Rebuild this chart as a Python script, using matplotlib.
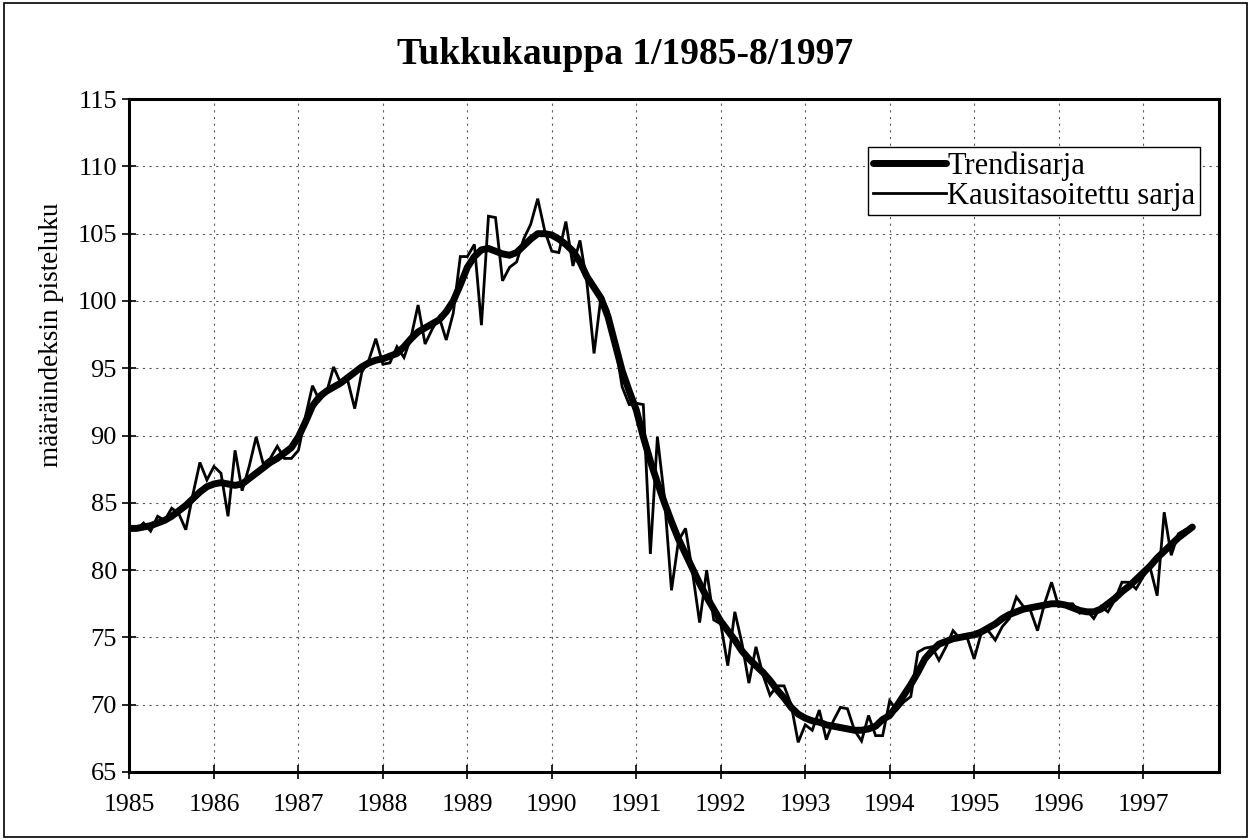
import numpy as np
import matplotlib
matplotlib.use('Agg')
import matplotlib.pyplot as plt
from matplotlib.patches import Rectangle

# kuukausisarjat 1/1985 - 8/1997 (luettu kuvasta)
years = [1985, 1986, 1987, 1988, 1989, 1990, 1991, 1992, 1993, 1994, 1995, 1996, 1997]

kausi = [83.2, 83.0, 83.5, 82.9, 84.0, 83.7, 84.6, 84.2, 83.0, 85.6, 88.0, 86.7,
         87.7, 87.2, 84.0, 88.9, 85.9, 87.7, 89.9, 87.9, 88.3, 89.2, 88.3, 88.3,
         88.9, 91.4, 93.7, 92.6, 93.2, 95.1, 93.9, 94.1, 92.0, 94.7, 95.6, 97.2,
         95.3, 95.4, 96.6, 95.8, 97.3, 99.7, 96.8, 97.9, 98.8, 97.1, 99.1, 103.3,
         103.3, 104.2, 98.2, 106.3, 106.2, 101.5, 102.5, 102.9, 104.6, 105.7, 107.6, 105.2,
         103.7, 103.6, 105.9, 102.6, 104.5, 101.3, 96.1, 100.4, 99.3, 96.8, 93.6, 92.3,
         92.4, 92.3, 81.2, 89.9, 85.4, 78.5, 82.2, 83.1, 79.8, 76.1, 80.0, 76.3,
         76.0, 72.9, 76.9, 74.6, 71.6, 74.3, 72.2, 70.7, 71.4, 71.4, 70.0, 67.2,
         68.5, 68.1, 69.6, 67.4, 68.8, 69.8, 69.7, 68.1, 67.3, 69.2, 67.7, 67.7,
         70.3, 69.6, 70.2, 70.6, 73.9, 74.2, 74.3, 73.3, 74.3, 75.5, 74.9, 75.0,
         73.4, 75.3, 75.5, 74.8, 75.8, 76.4, 78.0, 77.3, 77.0, 75.5, 77.5, 79.1,
         77.3, 77.5, 77.5, 76.8, 77.0, 76.4, 77.3, 76.9, 77.8, 79.1, 79.1, 78.6,
         79.5, 80.2, 78.1, 84.3, 81.1, 82.7, 83.0, 83.2]

trendi = [83.1, 83.1, 83.2, 83.3, 83.5, 83.7, 84.0, 84.4, 84.8, 85.3, 85.8, 86.2,
          86.4, 86.5, 86.4, 86.3, 86.4, 86.8, 87.2, 87.6, 88.0, 88.3, 88.7, 89.1,
          89.9, 91.0, 92.2, 92.9, 93.3, 93.6, 93.9, 94.3, 94.7, 95.1, 95.4, 95.6,
          95.7, 95.9, 96.1, 96.6, 97.2, 97.7, 98.0, 98.3, 98.6, 99.2, 100.0, 101.2,
          102.5, 103.3, 103.8, 103.9, 103.7, 103.5, 103.4, 103.6, 104.1, 104.6, 105.0, 105.0,
          104.9, 104.6, 104.2, 103.7, 102.9, 101.8, 101.0, 100.2, 98.8, 96.8, 94.8, 93.3,
          91.9, 89.9, 88.1, 86.5, 85.0, 83.6, 82.3, 81.2, 80.1, 79.0, 78.0, 77.1,
          76.2, 75.5, 74.8, 74.0, 73.4, 72.9, 72.4, 71.8, 71.1, 70.5, 69.8, 69.3,
          69.0, 68.8, 68.7, 68.5, 68.4, 68.3, 68.2, 68.1, 68.1, 68.2, 68.4, 68.9,
          69.2, 69.9, 70.7, 71.5, 72.4, 73.4, 74.0, 74.5, 74.7, 74.9, 75.0, 75.1,
          75.2, 75.4, 75.7, 76.0, 76.4, 76.7, 76.9, 77.1, 77.2, 77.3, 77.4, 77.5,
          77.5, 77.4, 77.2, 77.0, 76.9, 76.9, 77.1, 77.5, 77.9, 78.4, 78.8, 79.3,
          79.8, 80.3, 80.9, 81.4, 81.9, 82.4, 82.8, 83.2]

plt.rcParams['font.family'] = ['Liberation Serif', 'DejaVu Serif']


def make_graph(file):
    fig = plt.figure(figsize=(12.51, 8.4), dpi=100)
    ax = fig.add_axes([0.1035, 0.081, 0.871, 0.801])

    x = np.arange(len(kausi))
    ax.plot(x, trendi, color='black', lw=5, solid_capstyle='round',
            solid_joinstyle='round', label='Trendisarja', zorder=3)
    ax.plot(x, kausi, color='black', lw=2.0, solid_joinstyle='miter',
            label='Kausitasoitettu sarja', zorder=4)

    ax.set_xlim(0, 154.8)
    ax.set_ylim(65, 115)
    ax.set_xticks(np.arange(len(years)) * 12)
    ax.set_xticklabels([str(y) for y in years])
    ax.set_yticks(np.arange(65, 116, 5))
    ax.tick_params(direction='inout', length=10, width=1.2, labelsize=18.5, pad=11)
    ax.tick_params(axis='y', labelsize=19, pad=4)

    # pisteviivaiset apuviivat
    ax.grid(True, color='0.35', lw=0.8, linestyle=(0, (2, 4)))
    ax.set_axisbelow(True)
    for s in ax.spines.values():
        s.set_linewidth(2.2)

    leg = ax.legend(loc='upper right', bbox_to_anchor=(0.9826, 0.9287),
                    borderaxespad=0, fancybox=False, edgecolor='black',
                    framealpha=1, fontsize=22, handlelength=2.4,
                    handletextpad=0.05, borderpad=0.15, labelspacing=0.02)
    leg.get_frame().set_linewidth(1.0)

    fig.text(0.5, 1 - 55 / 840, 'Tukkukauppa 1/1985-8/1997', ha='center',
             va='center', fontsize=27, fontweight='bold')
    fig.text(52 / 1251, 1 - 335 / 840, 'määräindeksin pisteluku', rotation=90,
             ha='center', va='center', fontsize=19.5)

    # kaavion reunus
    fig.patches.append(Rectangle((0.003, 0.003), 0.994, 0.993, transform=fig.transFigure,
                                 fill=False, edgecolor='black', lw=1.2))
    fig.savefig(file, dpi=100)


if __name__ == '__main__':
    make_graph('out.png')
